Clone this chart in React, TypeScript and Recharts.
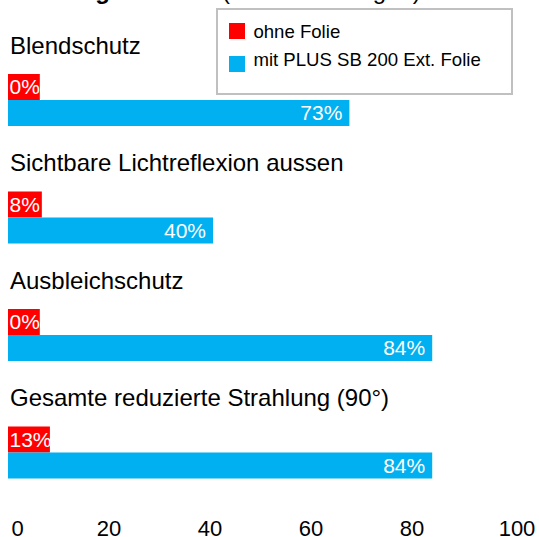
import {
  BarChart,
  Bar,
  XAxis,
  YAxis,
  Legend,
  LabelList,
} from "recharts";

const categories = [
  "Blendschutz",
  "Sichtbare Lichtreflexion aussen",
  "Ausbleichschutz",
  "Gesamte reduzierte Strahlung (90°)",
];
const seriesNames = ["ohne Folie", "mit PLUS SB 200 Ext. Folie"];
// bar lengths as drawn in the picture (axis units)
const ohneValues = [6.3, 6.7, 6.3, 8.3];
const mitValues = [67.6, 40.6, 84, 84];
// printed labels
const ohneLabels = ["0%", "8%", "0%", "13%"];
const mitLabels = ["73%", "40%", "84%", "84%"];
const xTicks = [0, 20, 40, 60, 80, 100];

const data = categories.map((name, i) => ({
  name,
  ohne: ohneValues[i],
  mit: mitValues[i],
  ohneLabel: ohneLabels[i],
  mitLabel: mitLabels[i],
}));

const FONT = "'Liberation Sans', Arial, sans-serif";
const RED = "#FF0000";
const BLUE = "#00B0F0";

// category title drawn above the red bar of each group
const TitleLabel = (props: any) => {
  const { x, y, value } = props;
  return (
    <text x={x + 2} y={y - 20.5} fontSize={24} fill="#000" fontFamily={FONT}>
      {value}
    </text>
  );
};

const ValueTick = (props: any) => {
  const { x, y, payload } = props;
  let dx = 0;
  if (payload.value === 0) dx = 9.5;
  if (payload.value === 100) dx = 4;
  return (
    <text
      x={x + dx}
      y={y + 25}
      fontSize={22}
      textAnchor="middle"
      fill="#000"
      fontFamily={FONT}
    >
      {payload.value}
    </text>
  );
};

const LegendBox = (props: any) => {
  const items = props.payload || [];
  const swatchTops = [14.8, 48];
  const textTops = [14.5, 42.5];
  return (
    <div
      style={{
        position: "relative",
        width: 297,
        height: 87,
        boxSizing: "border-box",
        border: "2px solid #c0c0c0",
        background: "#fff",
        fontFamily: FONT,
      }}
    >
      {seriesNames.map((nm, i) => {
        const it = items.find((p: any) => p.value === nm);
        return (
          <div key={nm}>
            <div
              style={{
                position: "absolute",
                left: 10.6,
                top: swatchTops[i] - 2,
                width: 16,
                height: 16,
                background: it ? it.color : "#000",
              }}
            />
            <span
              style={{
                position: "absolute",
                left: 35.4,
                top: textTops[i] - 2,
                fontSize: 18.6,
                lineHeight: "18px",
                whiteSpace: "nowrap",
                color: "#000",
              }}
            >
              {nm}
            </span>
          </div>
        );
      })}
    </div>
  );
};

const App = () => {
  return (
    <div
      style={{
        position: "absolute",
        left: 0,
        top: 0,
        width: 539,
        height: 537,
        fontFamily: FONT,
        overflow: "hidden",
        background: "#fff",
      }}
    >
      <div
        style={{
          position: "absolute",
          left: 10,
          top: -21,
          fontSize: 24,
          lineHeight: "24px",
          whiteSpace: "nowrap",
          fontWeight: "bold",
        }}
      >
        Leistungswerte
      </div>
      <div
        style={{
          position: "absolute",
          left: 222,
          top: -21,
          fontSize: 24,
          lineHeight: "24px",
          whiteSpace: "nowrap",
        }}
      >
        (Schutzleistungen)
      </div>
      <BarChart
        width={539}
        height={537}
        data={data}
        layout="vertical"
        margin={{ top: 41, right: 26, left: 8, bottom: 0 }}
        barGap={0}
        barSize={26}
      >
        <XAxis
          type="number"
          domain={[0, 100]}
          ticks={xTicks}
          axisLine={false}
          tickLine={false}
          tickSize={0}
          tickMargin={0}
          height={26}
          tick={<ValueTick />}
          interval={0}
        />
        <YAxis type="category" dataKey="name" width={0} hide />
        <Legend
          layout="horizontal"
          verticalAlign="middle"
          align="center"
          wrapperStyle={{ top: 8, left: 216, width: 297, height: 87 }}
          content={<LegendBox />}
        />
        <Bar
          dataKey="ohne"
          name={seriesNames[0]}
          fill={RED}
          isAnimationActive={false}
        >
          <LabelList dataKey="name" content={<TitleLabel />} />
          <LabelList
            dataKey="ohneLabel"
            position="insideLeft"
            offset={1.5}
            fill="#fff"
            fontSize={21}
          />
        </Bar>
        <Bar
          dataKey="mit"
          name={seriesNames[1]}
          fill={BLUE}
          isAnimationActive={false}
        >
          <LabelList
            dataKey="mitLabel"
            position="insideRight"
            offset={7}
            fill="#fff"
            fontSize={21}
          />
        </Bar>
      </BarChart>
    </div>
  );
};

export default App;
